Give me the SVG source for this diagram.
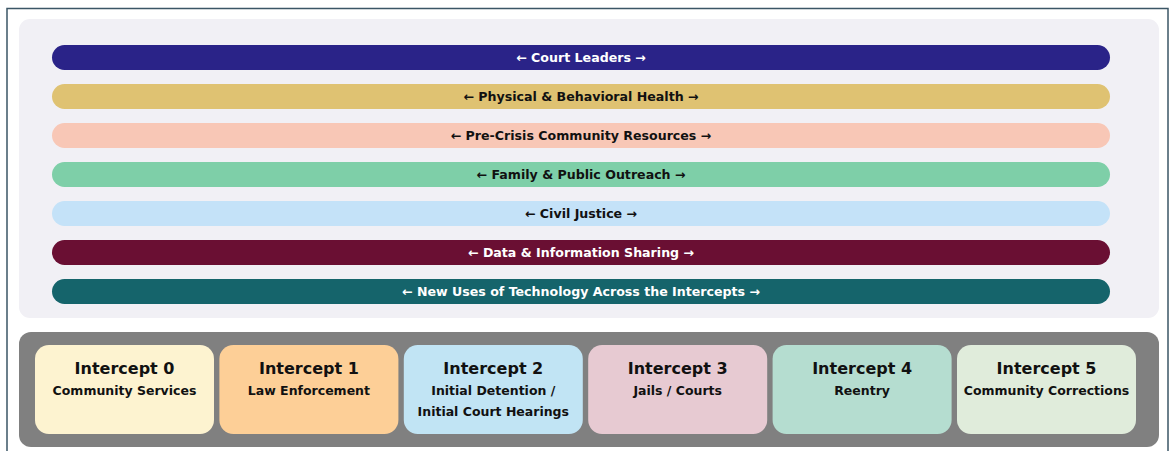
<svg xmlns="http://www.w3.org/2000/svg" width="1175" height="451" viewBox="0 0 1175 451">
<style>
.bt{font-family:"DejaVu Sans","Verdana",sans-serif;font-weight:bold;font-size:12.6px;text-anchor:middle}
.w{fill:#ffffff}.k{fill:#111111}
.t1{font-family:"DejaVu Sans","Verdana",sans-serif;font-weight:bold;font-size:16px;text-anchor:middle;fill:#111}
.t2{font-family:"DejaVu Sans","Verdana",sans-serif;font-weight:bold;font-size:12.5px;text-anchor:middle;fill:#111}
</style>
<rect x="0" y="0" width="1175" height="451" fill="#ffffff"/>
<rect x="7" y="8.5" width="1161" height="450" fill="#ffffff" stroke="#3b5666" stroke-width="1.5"/>
<g id="top-panel">
<rect x="19" y="19" width="1140" height="299" rx="11" fill="#f1f0f5"/>
</g>
<g id="bar-court"><rect x="52" y="45" width="1058" height="25" rx="12.5" fill="#2a2388"/><text class="bt w" x="581" y="62">← Court Leaders →</text></g>
<g id="bar-health"><rect x="52" y="84" width="1058" height="25" rx="12.5" fill="#dfc272"/><text class="bt k" x="581" y="101">← Physical &amp; Behavioral Health →</text></g>
<g id="bar-precrisis"><rect x="52" y="123" width="1058" height="25" rx="12.5" fill="#f8c7b6"/><text class="bt k" x="581" y="140">← Pre-Crisis Community Resources →</text></g>
<g id="bar-family"><rect x="52" y="162" width="1058" height="25" rx="12.5" fill="#7ecfa8"/><text class="bt k" x="581" y="179">← Family &amp; Public Outreach →</text></g>
<g id="bar-civil"><rect x="52" y="201" width="1058" height="25" rx="12.5" fill="#c4e2f8"/><text class="bt k" x="581" y="218">← Civil Justice →</text></g>
<g id="bar-data"><rect x="52" y="240" width="1058" height="25" rx="12.5" fill="#6a0f33"/><text class="bt w" x="581" y="257">← Data &amp; Information Sharing →</text></g>
<g id="bar-tech"><rect x="52" y="279" width="1058" height="25" rx="12.5" fill="#15646b"/><text class="bt w" x="581" y="296">← New Uses of Technology Across the Intercepts →</text></g>
<g id="bottom-panel"><rect x="19" y="332" width="1140" height="115" rx="12" fill="#808080"/></g>
<g id="intercept-0"><rect x="35" y="345" width="179" height="89" rx="14" fill="#fdf3d0"/><text class="t1" x="124.5" y="374">Intercept 0</text><text class="t2" x="124.5" y="395">Community Services</text></g>
<g id="intercept-1"><rect x="219.4" y="345" width="179" height="89" rx="14" fill="#fdcf97"/><text class="t1" x="308.9" y="374">Intercept 1</text><text class="t2" x="308.9" y="395">Law Enforcement</text></g>
<g id="intercept-2"><rect x="403.8" y="345" width="179" height="89" rx="14" fill="#c1e4f4"/><text class="t1" x="493.3" y="374">Intercept 2</text><text class="t2" x="493.3" y="395">Initial Detention /</text><text class="t2" x="493.3" y="416">Initial Court Hearings</text></g>
<g id="intercept-3"><rect x="588.2" y="345" width="179" height="89" rx="14" fill="#e7cad2"/><text class="t1" x="677.7" y="374">Intercept 3</text><text class="t2" x="677.7" y="395">Jails / Courts</text></g>
<g id="intercept-4"><rect x="772.6" y="345" width="179" height="89" rx="14" fill="#b5ddd0"/><text class="t1" x="862.1" y="374">Intercept 4</text><text class="t2" x="862.1" y="395">Reentry</text></g>
<g id="intercept-5"><rect x="957" y="345" width="179" height="89" rx="14" fill="#e0ecdb"/><text class="t1" x="1046.5" y="374">Intercept 5</text><text class="t2" x="1046.5" y="395">Community Corrections</text></g>
<g id="connectors"></g>
</svg>
